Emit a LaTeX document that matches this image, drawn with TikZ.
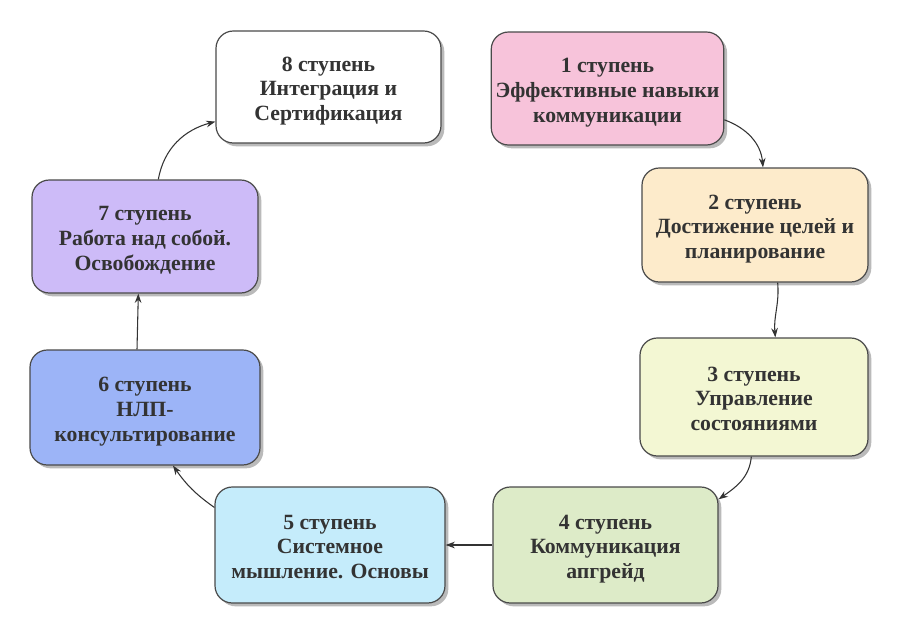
\documentclass[tikz,border=0pt]{standalone}
\usepackage{fontspec}
\setmainfont{Liberation Serif}
\usetikzlibrary{shadows,arrows.meta}
\definecolor{cPink}{HTML}{F7C3DA}
\definecolor{cPeach}{HTML}{FDEBCB}
\definecolor{cYel}{HTML}{F3F7D3}
\definecolor{cGreen}{HTML}{DDEBC8}
\definecolor{cSky}{HTML}{C5ECFB}
\definecolor{cBlue}{HTML}{9CB4F7}
\definecolor{cLav}{HTML}{CDBBF8}
\definecolor{cEdge}{HTML}{4A4A4A}
\newcommand\steptext[1]{\raisebox{-3pt}[\height][\depth]{\begin{tabular}{@{}c@{}}#1\end{tabular}}}
\tikzset{
  stepbox/.style={draw=cEdge, line width=0.9pt, rounded corners=13pt,
    font=\bfseries\fontsize{16.3}{18.6}\selectfont, text=black!80,
    drop shadow={shadow xshift=2.5pt, shadow yshift=-2.5pt, opacity=0.45, fill=black!60}},
  link/.style={draw=black!80, line width=0.8pt, -{Stealth[length=7pt,width=5pt]}}
}
\begin{document}
\begin{tikzpicture}[x=0.75pt,y=-0.75pt]
\useasboundingbox (0,0) rectangle (900,633);
\node[stepbox, fill=white, minimum width=225*0.75pt, minimum height=112*0.75pt] (b8) at (328.5,87) {\steptext{8 ступень\\Интеграция и\\Сертификация}};
\node[stepbox, fill=cPink, minimum width=225*0.75pt, minimum height=113*0.75pt] (b1) at (607.5,88.5) {\steptext{1 ступень\\Эффективные навыки\\коммуникации}};
\node[stepbox, fill=cPeach, minimum width=226*0.75pt, minimum height=114*0.75pt] (b2) at (755,225) {\steptext{2 ступень\\Достижение целей и\\планирование}};
\node[stepbox, fill=cYel, minimum width=228*0.75pt, minimum height=118*0.75pt] (b3) at (754,397) {\steptext{3 ступень\\Управление\\состояниями}};
\node[stepbox, fill=cGreen, minimum width=225*0.75pt, minimum height=116*0.75pt] (b4) at (605.5,545) {\steptext{4 ступень\\Коммуникация\\апгрейд}};
\node[stepbox, fill=cSky, minimum width=230*0.75pt, minimum height=116*0.75pt] (b5) at (330,545) {\steptext{5 ступень\\Системное\\мышление. Основы}};
\node[stepbox, fill=cBlue, minimum width=230*0.75pt, minimum height=115*0.75pt] (b6) at (145,407.5) {\steptext{6 ступень\\НЛП-\\консультирование}};
\node[stepbox, fill=cLav, minimum width=226*0.75pt, minimum height=113*0.75pt] (b7) at (145,236.5) {\steptext{7 ступень\\Работа над собой.\\Освобождение}};

\draw[link] (b1.-15) to[out=-20,in=95] ([xshift=6pt]b2.north);
\draw[link] ([xshift=17pt]b2.south) to[out=-85,in=95] ([xshift=16pt]b3.north);
\draw[link] ([xshift=-2pt]b3.south) to[out=-95,in=35] (b4.22);
\draw[link] (b4.west) -- (b5.east);
\draw[link] (b5.162) to[out=145,in=-55] ([xshift=21pt]b6.south);
\draw[link] ([xshift=-6pt]b6.north) -- ([xshift=-5pt]b7.south);
\draw[link] ([xshift=10pt]b7.north) to[out=80,in=195] (b8.-163);
\end{tikzpicture}
\end{document}
